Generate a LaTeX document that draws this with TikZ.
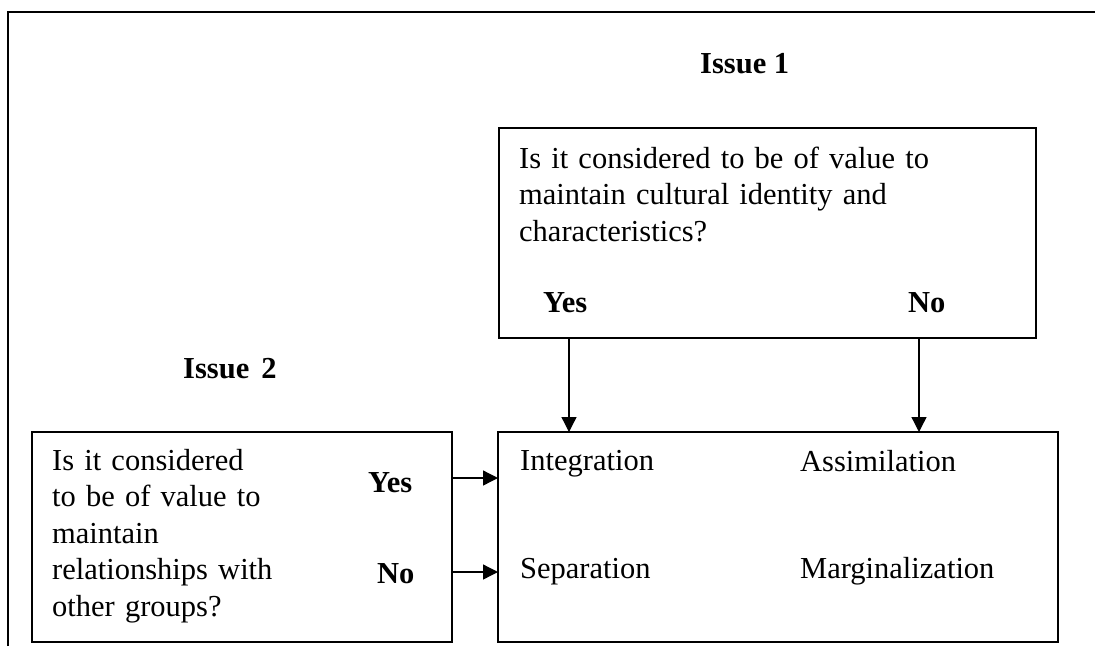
\documentclass[tikz,border=0pt]{standalone}
\usepackage{fontspec}
\setmainfont{Liberation Serif}
\usetikzlibrary{arrows.meta}
\newcommand{\diafont}{\fontsize{30.5}{36.5}\selectfont}

\begin{document}
\begin{tikzpicture}[x=1pt,y=-1pt,
	box/.style={draw,rectangle,line width=1.8pt,inner sep=0pt,outer sep=0pt},
	txt/.style={anchor=base west,inner sep=0pt,font=\diafont},
	head/.style={txt,font=\diafont\bfseries},
	para/.style={txt,align=left,text width=#1},
	arr/.style={-{Triangle[length=15pt,width=15pt]},line width=1.3pt}]
	\useasboundingbox (0,0) rectangle (1095,646);
	\draw[line width=2pt] (8,646) -- (8,12) -- (1095,12);

	% issue 1
	\node (TITLEA) [head] at (700,73)  {Issue 1};
	\node (BOXA)   [box,minimum width=537pt,minimum height=210pt] at (767.5,233) {};
	\node (TEXTA)  [para=510pt] at (519,168)
		{Is it considered to be of value to\\maintain cultural identity and\\characteristics?};
	\node (YESA)   [head] at (543,312) {Yes};
	\node (NOA)    [head] at (908,312) {No};

	% issue 2
	\node (TITLEB) [head] at (183,378) {Issue\hspace{0.4em}2};
	\node (BOXB)   [box,minimum width=420pt,minimum height=210pt] at (242,537) {};
	\node (TEXTB)  [para=300pt] at (52,470)
		{Is it considered\\to be of value to\\maintain\\relationships with\\other groups?};
	\node (YESB)   [head] at (368,492) {Yes};
	\node (NOB)    [head] at (377,583) {No};

	% outcomes
	\node (RES)    [box,minimum width=560pt,minimum height=210pt] at (778,537) {};
	\node (INTEG)  [txt] at (520,470) {Integration};
	\node (ASSIM)  [txt] at (800,471) {Assimilation};
	\node (SEPAR)  [txt] at (520,578) {Separation};
	\node (MARGIN) [txt] at (800,578) {Marginalization};

	\draw[arr] ([xshift=70pt]BOXA.south west) -- ([xshift=71pt]RES.north west);
	\draw[arr] ([xshift=420pt]BOXA.south west) -- ([xshift=421pt]RES.north west);
	\draw[arr] ([yshift=-46pt]BOXB.north east) -- ([yshift=-46pt]RES.north west);
	\draw[arr] ([yshift=-140pt]BOXB.north east) -- ([yshift=-140pt]RES.north west);
\end{tikzpicture}
\end{document}
